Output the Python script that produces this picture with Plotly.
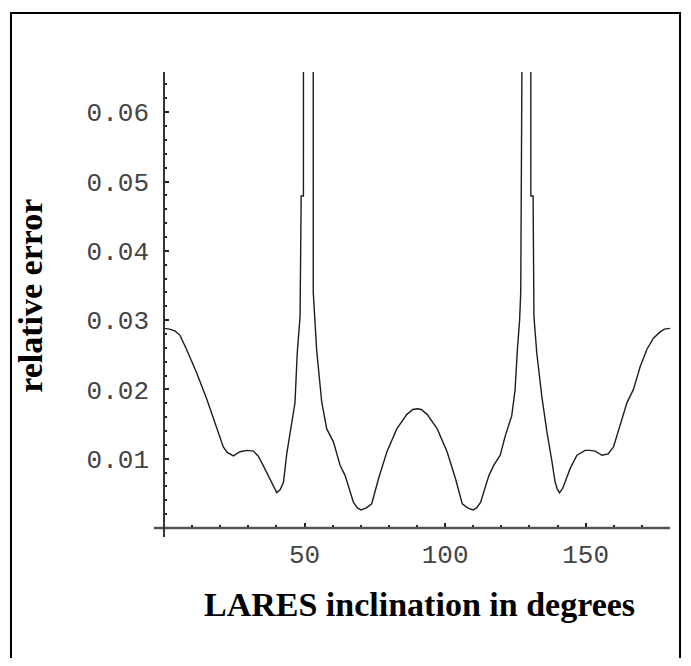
import plotly.graph_objects as go

# LARES inclination (degrees) and relative error
incl_left = [0, 2, 4, 5.7, 8, 11.6, 15.2, 18.7, 21.1, 22.5, 24.7, 27, 29.5, 31.8, 33.5,
             35.3, 37.7, 39.3, 40.1, 41.3, 42.5, 43.7, 45.4, 46.6, 47.4, 48.4, 48.8,
             49.6, 49.7, 53.0, 53.1, 54.3, 56.1, 57.9, 60.3, 62.6, 64.4, 67.4, 68.8,
             70.1, 72, 73.9, 76.3, 79.3, 82.8, 86.4, 88.5, 90.2]
err_left = [0.0288, 0.0287, 0.0284, 0.0278, 0.0258, 0.0224, 0.0186, 0.0143, 0.0117,
            0.0109, 0.0104, 0.0110, 0.0112, 0.0111, 0.0104, 0.0090, 0.0071, 0.0056,
            0.0051, 0.0055, 0.0066, 0.0108, 0.0148, 0.0181, 0.0253, 0.0305, 0.0479,
            0.0479, 0.3, 0.3, 0.034, 0.0257, 0.0182, 0.0143, 0.0124, 0.0091, 0.0076,
            0.0037, 0.0029, 0.0026, 0.0029, 0.0035, 0.0071, 0.0110, 0.0143, 0.0164,
            0.0171, 0.0172]

incl_right = [91.5, 93.6, 97.2, 100.7, 103.7, 106.1, 108.0, 109.9, 111.2, 112.6, 115.6,
              117.4, 119.6, 121.4, 123.7, 124.9, 125.7, 126.5, 126.9, 127.0, 130.4,
              130.5, 131.3, 131.6, 132.6, 134.4, 136.2, 138.0, 139.1, 139.9, 140.7,
              141.8, 142.7, 144.5, 146.9, 149.8, 151.5, 153.4, 155.8, 158.0, 159.9,
              161.7, 164.7, 167.0, 169.4, 171.8, 174.1, 176.5, 178.0, 180.0]
err_right = [0.0171, 0.0164, 0.0143, 0.0110, 0.0071, 0.0035, 0.0029, 0.0026, 0.0029,
             0.0037, 0.0076, 0.0091, 0.0105, 0.0133, 0.0162, 0.0200, 0.0257, 0.0300,
             0.034, 0.3, 0.3, 0.0479, 0.0479, 0.0305, 0.0253, 0.0190, 0.0139, 0.0096,
             0.0067, 0.0056, 0.0051, 0.0057, 0.0066, 0.0086, 0.0105, 0.0112, 0.0112,
             0.0111, 0.0105, 0.0107, 0.0117, 0.0140, 0.0181, 0.0200, 0.0233, 0.0258,
             0.0274, 0.0283, 0.0287, 0.0288]

x_ticks = [50, 100, 150]
x_tick_labels = ["50", "100", "150"]
y_ticks = [0.01, 0.02, 0.03, 0.04, 0.05, 0.06]
y_tick_labels = ["0.01", "0.02", "0.03", "0.04", "0.05", "0.06"]

x_title = "LARES inclination in degrees"
y_title = "relative error"

fig = go.Figure()
fig.add_trace(go.Scatter(
    x=incl_left + incl_right, y=err_left + err_right,
    mode="lines", line=dict(color="#1e1e1e", width=1.4),
    showlegend=False, hoverinfo="skip"))

tick_font = dict(family="Liberation Mono, Courier New, monospace", size=26, color="#444")
title_font = dict(family="Liberation Serif, Times New Roman, serif", size=34, color="black")

fig.update_layout(
    width=675, height=650,
    margin=dict(l=156, r=13, t=64, b=130, pad=0),
    paper_bgcolor="white", plot_bgcolor="white",
    xaxis=dict(range=[0, 180], showgrid=False, zeroline=False, showline=False,
               tickvals=x_ticks, ticktext=x_tick_labels, ticks="inside", ticklen=5,
               tickwidth=2, tickcolor="#222", tickfont=tick_font, ticklabelstandoff=8,
               minor=dict(dtick=10, tick0=0, ticks="inside", ticklen=3, tickwidth=2,
                          tickcolor="#222", showgrid=False)),
    yaxis=dict(range=[0, 0.0658], showgrid=False, zeroline=False, showline=False,
               tickvals=y_ticks, ticktext=y_tick_labels, ticks="inside", ticklen=5,
               tickwidth=2, tickcolor="#222", tickfont=tick_font, ticklabelstandoff=14,
               minor=dict(dtick=0.002, tick0=0, ticks="inside", ticklen=3, tickwidth=2,
                          tickcolor="#222", showgrid=False)),
    shapes=[
        # axes drawn Mathematica-style, slightly overshooting the origin
        dict(type="line", xref="paper", yref="paper", x0=-0.02, x1=1.0, y0=0, y1=0,
             line=dict(color="#555", width=2.5)),
        dict(type="line", xref="paper", yref="paper", x0=0, x1=0, y0=-0.02, y1=1.0,
             line=dict(color="#333", width=2)),
        # outer frame
        dict(type="rect", xref="paper", yref="paper", x0=-0.3024, x1=1.0198,
             y0=-0.40, y1=1.1294, line=dict(color="black", width=2), layer="below"),
    ],
    annotations=[
        dict(text="<b>" + x_title + "</b>", xref="paper", yref="paper", x=0.504, y=-0.167,
             xanchor="center", yanchor="middle", showarrow=False, font=title_font),
        dict(text="<b>" + y_title + "</b>", xref="paper", yref="paper", x=-0.263, y=0.509,
             xanchor="center", yanchor="middle", showarrow=False, font=title_font,
             textangle=-90),
    ],
)

fig.write_html("out.html")
